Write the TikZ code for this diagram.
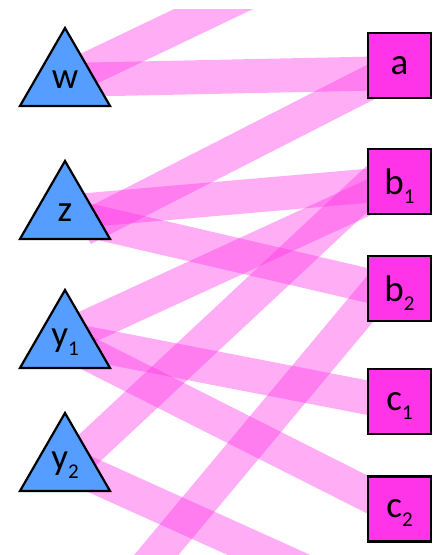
\documentclass[tikz,border=0pt]{standalone}
\usepackage{fontspec}
\setmainfont{Carlito}
\usetikzlibrary{shapes.geometric,backgrounds}
\definecolor{triblue}{RGB}{85,158,255}
\definecolor{sqmag}{RGB}{255,51,232}
\definecolor{bandmag}{RGB}{255,51,230}
\newcommand\subs[1]{\raisebox{-8.7pt}{\fontsize{21}{21}\selectfont #1}}
\begin{document}
\begin{tikzpicture}[x=1pt,y=-1pt,
  tri/.style={regular polygon,regular polygon sides=3,minimum size=104pt,inner sep=0pt,
    draw=black,line width=2.2pt,fill=triblue,font=\fontsize{37}{40}\selectfont},
  sq/.style={rectangle,minimum width=63pt,minimum height=65pt,inner sep=0pt,
    draw=black,line width=2.2pt,fill=sqmag,font=\fontsize{37}{40}\selectfont,text depth=0pt},
  band/.style={line width=34pt,draw=bandmag,draw opacity=0.4}]
\useasboundingbox (0,0) rectangle (433,555);
% left triangles
\node[tri] (w)  at (65,80)  {w};
\node[tri] (z)  at (65,213) {z};
\node[tri] (y1) at (65,342) {y\subs{1}};
\node[tri] (y2) at (65,465) {y\subs{2}};
% right squares
\node[sq] (a)  at (399.5,65.5)  {a};
\node[sq] (b1) at (399.5,181.5) {b\subs{1}};
\node[sq] (b2) at (399.5,288.5) {b\subs{2}};
\node[sq] (c1) at (399.5,401.5) {c\subs{1}};
\node[sq] (c2) at (399.5,509)   {c\subs{2}};
% off-picture ends
\coordinate (offtop) at (400,-80);
\coordinate (offbr)  at (400,614);
\coordinate (offbl)  at (102,620);
\begin{scope}[on background layer]
\clip (0,9) rectangle (433,555);
\draw[band] (w.center) -- (offtop);
\draw[band] (w.center) -- ([shift={(0.5,7.5)}]a.center);
\draw[band] ([shift={(18,16)}]z.center) -- ([shift={(0.5,1.5)}]a.center);
\draw[band] ([shift={(0,-1)}]z.center) -- ([shift={(0.5,1.5)}]b1.center);
\draw[band] ([shift={(0,2)}]z.center) -- ([shift={(0.5,4.5)}]b2.center);
\draw[band] ([shift={(0,-5)}]y1.center) -- ([shift={(0.5,1.5)}]b1.center);
\draw[band] ([shift={(0,-3)}]y1.center) -- ([shift={(0.5,2.5)}]c1.center);
\draw[band] ([shift={(10,5)}]y1.center) -- ([shift={(0.5,2)}]c2.center);
\draw[band] ([shift={(0,6)}]y2.center) -- ([shift={(-4.5,-18.8)}]b1.center);
\draw[band] ([shift={(0,-2)}]y2.center) -- (offbr);
\draw[band] ([shift={(-4.5,-19.5)}]b2.center) -- (offbl);
\end{scope}
\end{tikzpicture}
\end{document}
